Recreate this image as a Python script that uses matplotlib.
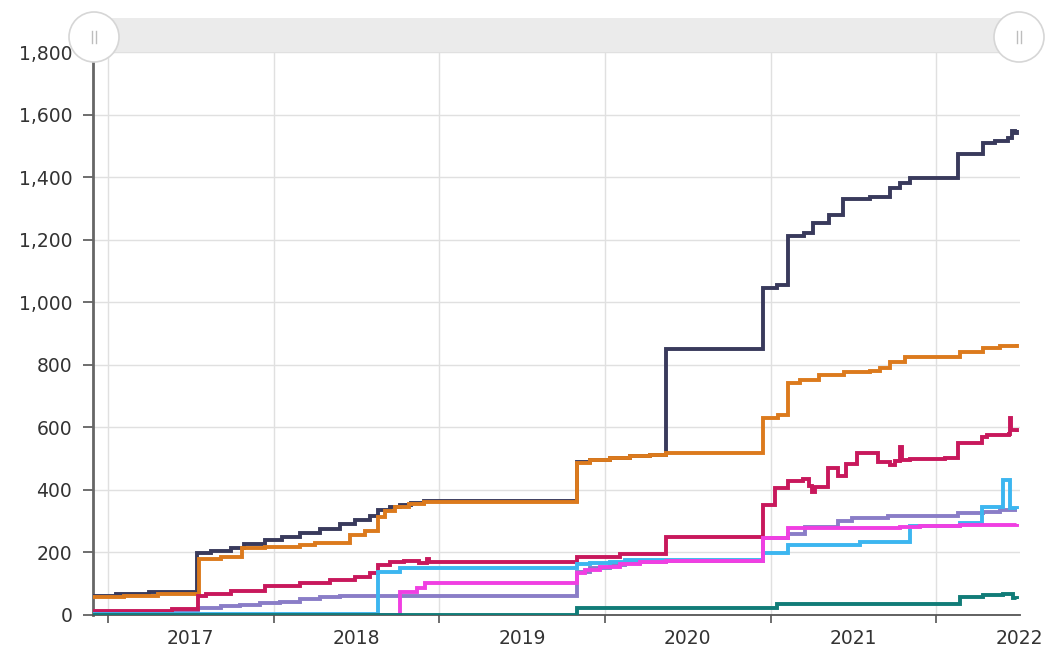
import matplotlib
matplotlib.use("Agg")
import matplotlib.pyplot as plt
from matplotlib.patches import FancyBboxPatch, Circle
from matplotlib.ticker import FuncFormatter

# ---------------- data (x in decimal years, y values) ----------------
year_labels = [2017, 2018, 2019, 2020, 2021, 2022]
grid_years = [2016.5, 2017.5, 2018.5, 2019.5, 2020.5, 2021.5]
y_ticks = [0, 200, 400, 600, 800, 1000, 1200, 1400, 1600, 1800]

navy_x = [2016.41, 2016.55, 2016.75, 2017.04, 2017.12, 2017.24, 2017.32, 2017.45, 2017.55,
          2017.66, 2017.78, 2017.90, 2017.99, 2018.08, 2018.13, 2018.20, 2018.26, 2018.33,
          2018.41, 2019.33, 2019.41, 2019.53, 2019.65, 2019.77, 2019.87, 2020.455, 2020.54,
          2020.606, 2020.70, 2020.757, 2020.85, 2020.938, 2021.10, 2021.22, 2021.28, 2021.34,
          2021.633, 2021.78, 2021.856, 2021.935, 2021.959, 2021.975, 2021.989]
navy_y = [62, 68, 72, 198, 205, 215, 228, 240, 250,
          262, 275, 290, 305, 318, 335, 345, 352, 358,
          365, 488, 495, 502, 508, 513, 850, 1045, 1055,
          1212, 1220, 1253, 1279, 1330, 1337, 1365, 1381, 1397,
          1474, 1509, 1515, 1525, 1547, 1540, 1550]

orange_x = [2016.41, 2016.60, 2016.80, 2017.05, 2017.18, 2017.31, 2017.45, 2017.66, 2017.75,
            2017.96, 2018.05, 2018.13, 2018.17, 2018.23, 2018.32, 2018.41, 2019.33, 2019.41,
            2019.53, 2019.65, 2019.77, 2019.87, 2020.455, 2020.546, 2020.606, 2020.68, 2020.79,
            2020.94, 2021.10, 2021.16, 2021.22, 2021.31, 2021.645, 2021.78, 2021.886, 2021.989]
orange_y = [58, 62, 68, 180, 186, 215, 218, 224, 230,
            255, 270, 313, 332, 345, 355, 362, 485, 495,
            502, 508, 512, 518, 630, 640, 742, 751, 767,
            777, 781, 790, 808, 825, 841, 853, 860, 865]

crimson_x = [2016.41, 2016.886, 2017.043, 2017.09, 2017.24, 2017.45, 2017.66, 2017.84, 2017.99,
             2018.08, 2018.13, 2018.20, 2018.29, 2018.38, 2018.426, 2018.44, 2019.33, 2019.59,
             2019.87, 2020.455, 2020.528, 2020.606, 2020.697, 2020.73, 2020.751, 2020.769,
             2020.848, 2020.908, 2020.957, 2021.023, 2021.15, 2021.222, 2021.252, 2021.283,
             2021.29, 2021.343, 2021.554, 2021.633, 2021.778, 2021.808, 2021.941, 2021.947,
             2021.953, 2021.989]
crimson_y = [14, 20, 60, 68, 78, 92, 102, 112, 121,
             134, 160, 168, 172, 166, 178, 170, 185, 195,
             250, 352, 406, 428, 436, 412, 392, 408,
             470, 445, 482, 517, 490, 480, 492, 537,
             495, 498, 502, 550, 570, 577, 580, 630,
             590, 585]

purple_x = [2016.41, 2017.043, 2017.18, 2017.30, 2017.42, 2017.54, 2017.66, 2017.78, 2017.90,
            2019.33, 2019.41, 2019.53, 2019.62, 2019.71, 2019.87, 2020.455, 2020.606, 2020.709,
            2020.908, 2020.993, 2021.21, 2021.633, 2021.78, 2021.886, 2021.989]
purple_y = [8, 22, 28, 32, 38, 42, 52, 57, 60,
            138, 150, 160, 166, 170, 174, 245, 260, 280,
            300, 310, 316, 326, 330, 335, 337]

blue_x = [2016.41, 2018.13, 2018.26, 2019.33, 2019.41, 2019.53, 2019.62, 2020.455, 2020.606,
          2021.041, 2021.343, 2021.645, 2021.778, 2021.904, 2021.947, 2021.989]
blue_y = [2, 138, 150, 163, 166, 170, 175, 198, 224,
          232, 283, 293, 345, 432, 342, 340]

magenta_x = [2016.41, 2018.263, 2018.366, 2018.414, 2019.33, 2019.38, 2019.47, 2019.59, 2019.71,
             2019.87, 2020.455, 2020.606, 2021.283, 2021.403, 2021.645, 2021.989]
magenta_y = [0, 74, 86, 102, 134, 144, 153, 163, 169,
             172, 246, 278, 281, 284, 288, 291]

teal_x = [2016.41, 2019.33, 2020.54, 2021.645, 2021.78, 2021.90, 2021.96, 2021.989]
teal_y = [0, 22, 36, 58, 64, 66, 55, 52]

series = [
    (navy_x, navy_y, "#393a5c"),
    (orange_x, orange_y, "#dc7a1d"),
    (purple_x, purple_y, "#8a7dc7"),
    (crimson_x, crimson_y, "#c8185c"),
    (blue_x, blue_y, "#3cb6f0"),
    (magenta_x, magenta_y, "#f03fe2"),
    (teal_x, teal_y, "#117c78"),
]

# ---------------- figure ----------------
W, H = 1059, 651
fig = plt.figure(figsize=(W / 100, H / 100), dpi=100)
fig.patch.set_facecolor("white")

ax_l, ax_r, ax_b, ax_t = 93, 1020, 615, 52
ax = fig.add_axes([ax_l / W, (H - ax_b) / H, (ax_r - ax_l) / W, (ax_b - ax_t) / H])

for i, (xs, ys, c) in enumerate(series):
    ax.step(xs, ys, where="post", color=c, lw=2.8, zorder=3 + i,
            solid_joinstyle="miter", solid_capstyle="butt")

ax.set_xlim(2016.41, 2022.005)
ax.set_ylim(0, 1800)

ax.set_yticks(y_ticks)
ax.yaxis.set_major_formatter(FuncFormatter(lambda v, p: f"{v:,.0f}"))
ax.set_xticks(grid_years)
ax.set_xticklabels([])
ax.set_xticks(year_labels, minor=True)
ax.set_xticklabels([str(y) for y in year_labels], minor=True)

ax.tick_params(axis="y", which="major", length=7, width=1.2, color="#555555",
               labelsize=13.5, labelcolor="#333333", pad=8)
ax.tick_params(axis="x", which="major", length=6, width=1.2, color="#555555")
ax.tick_params(axis="x", which="minor", length=0, labelsize=13.5,
               labelcolor="#333333", pad=10)

ax.grid(True, which="major", color="#e0e0e0", lw=1.0, zorder=0)
ax.set_axisbelow(True)

for s in ["top", "right"]:
    ax.spines[s].set_visible(False)
ax.spines["left"].set_color("#666666")
ax.spines["left"].set_linewidth(2.0)
ax.spines["bottom"].set_color("#555555")
ax.spines["bottom"].set_linewidth(1.3)

# ---------------- scrollbar overlay ----------------
ov = fig.add_axes([0, 0, 1, 1], zorder=10)
ov.set_xlim(0, W)
ov.set_ylim(H, 0)
ov.axis("off")
ov.patch.set_alpha(0)

bar = FancyBboxPatch((93, 18), 1020 - 93, 34, boxstyle="round,pad=0,rounding_size=4",
                     facecolor="#ebebeb", edgecolor="none")
ov.add_patch(bar)
for cx in (94, 1019):
    ov.add_patch(Circle((cx, 37), 25, facecolor="white", edgecolor="#d6d6d6", lw=1.2))
    for dx in (-2, 2):
        ov.plot([cx + dx, cx + dx], [31, 43], color="#bdbdbd", lw=1.0)

fig.savefig("out.png", dpi=100)
